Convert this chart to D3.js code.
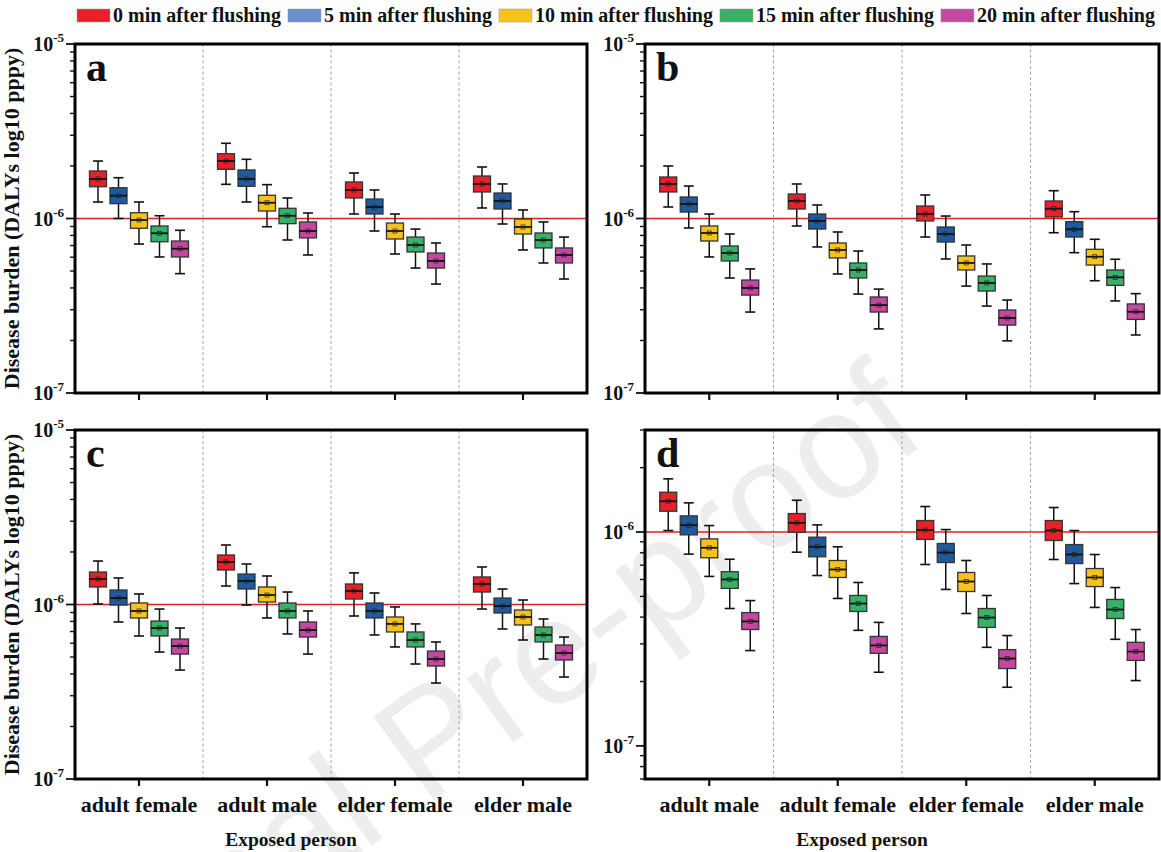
<!DOCTYPE html>
<html>
<head>
<meta charset="utf-8">
<script src="https://cdn.jsdelivr.net/npm/d3@7"></script>
<style>
html,body{margin:0;padding:0;background:#fff;}
svg{display:block;}
</style>
</head>
<body>
<svg id="chart" width="1161" height="852"></svg>
<script>
// ---------------- DATA ----------------
const unit = 1e-6; // values below are in units of 1e-6 DALYs pppy
const seriesNames = ["0 min after flushing","5 min after flushing","10 min after flushing","15 min after flushing","20 min after flushing"];
const categoriesABC = ["adult female","adult male","elder female","elder male"];
const categoriesD = ["adult male","adult female","elder female","elder male"];
const yTicksABC = [1e-5, 1e-6, 1e-7];
const yTicksD = [1e-6, 1e-7];
const yLabelsABC = ["-5","-6","-7"];
const yLabelsD = ["-6","-7"];
const threshold = 1e-6;
// each box: [whisker low, Q1, median, Q3, whisker high]
const panelA = [
  [[1.243,1.521,1.684,1.872,2.135],[1.000,1.216,1.351,1.501,1.713],[0.714,0.879,0.980,1.079,1.243],[0.602,0.736,0.823,0.906,1.037],[0.483,0.602,0.671,0.743,0.856]],
  [[1.570,1.914,2.135,2.351,2.698],[1.243,1.529,1.684,1.897,2.184],[0.897,1.104,1.231,1.358,1.563],[0.753,0.934,1.037,1.144,1.311],[0.618,0.774,0.848,0.955,1.075]],
  [[1.061,1.311,1.457,1.619,1.823],[0.848,1.061,1.164,1.293,1.457],[0.626,0.763,0.848,0.942,1.061],[0.520,0.643,0.705,0.783,0.870],[0.421,0.520,0.571,0.634,0.724]],
  [[1.149,1.419,1.577,1.752,1.973],[0.930,1.133,1.260,1.400,1.577],[0.660,0.815,0.894,0.993,1.119],[0.556,0.678,0.753,0.826,0.955],[0.450,0.556,0.618,0.678,0.783]]
];
const panelB = [
  [[1.164,1.419,1.577,1.729,2.000],[0.882,1.089,1.211,1.328,1.535],[0.602,0.743,0.826,0.906,1.061],[0.456,0.571,0.634,0.696,0.815],[0.291,0.364,0.400,0.444,0.514]],
  [[0.906,1.133,1.260,1.382,1.577],[0.687,0.870,0.968,1.061,1.195],[0.481,0.594,0.660,0.724,0.837],[0.369,0.456,0.507,0.556,0.651],[0.233,0.291,0.319,0.355,0.394]],
  [[0.783,0.968,1.061,1.179,1.364],[0.586,0.733,0.815,0.894,1.033],[0.410,0.507,0.556,0.610,0.705],[0.315,0.384,0.427,0.468,0.549],[0.199,0.245,0.269,0.299,0.341]],
  [[0.829,1.020,1.138,1.260,1.443],[0.637,0.783,0.867,0.959,1.094],[0.440,0.541,0.604,0.666,0.760],[0.337,0.414,0.460,0.507,0.584],[0.215,0.264,0.292,0.324,0.371]]
];
const panelC = [
  [[1.007,1.260,1.400,1.535,1.775],[0.794,0.993,1.089,1.211,1.419],[0.660,0.837,0.918,1.020,1.149],[0.534,0.660,0.733,0.804,0.942],[0.421,0.520,0.578,0.634,0.733]],
  [[1.276,1.577,1.752,1.922,2.193],[0.993,1.227,1.364,1.495,1.707],[0.837,1.033,1.133,1.260,1.457],[0.678,0.837,0.918,1.020,1.179],[0.520,0.651,0.714,0.794,0.918]],
  [[0.859,1.075,1.195,1.311,1.518],[0.669,0.837,0.918,1.020,1.164],[0.571,0.696,0.774,0.848,0.968],[0.456,0.571,0.626,0.696,0.774],[0.355,0.444,0.487,0.541,0.610]],
  [[0.942,1.179,1.311,1.438,1.641],[0.724,0.894,0.980,1.089,1.227],[0.626,0.763,0.848,0.930,1.061],[0.487,0.610,0.669,0.743,0.826],[0.384,0.481,0.527,0.586,0.651]]
];
const panelD = [
  [[1.016,1.251,1.393,1.535,1.773],[0.788,0.970,1.076,1.190,1.369],[0.620,0.758,0.844,0.929,1.072],[0.439,0.545,0.600,0.652,0.746],[0.279,0.350,0.382,0.420,0.478]],
  [[0.805,0.998,1.104,1.220,1.408],[0.626,0.766,0.853,0.946,1.080],[0.489,0.613,0.668,0.736,0.853],[0.347,0.425,0.463,0.505,0.581],[0.221,0.271,0.295,0.325,0.378]],
  [[0.705,0.923,1.022,1.132,1.316],[0.539,0.720,0.802,0.884,1.027],[0.416,0.527,0.587,0.647,0.736],[0.289,0.358,0.398,0.439,0.505],[0.188,0.230,0.256,0.282,0.328]],
  [[0.744,0.913,1.016,1.132,1.302],[0.574,0.712,0.785,0.874,1.016],[0.444,0.556,0.613,0.675,0.785],[0.315,0.394,0.434,0.484,0.550],[0.202,0.251,0.276,0.305,0.350]]
];

// ---------------- STYLE ----------------
const boxColors = ["#e8202a","#1e5a9c","#f8c21c","#38b068","#c4489f"];
const legendColors = ["#e8202a","#6b8ecd","#f8c21c","#38b068","#c4489f"];
const serif = "'Liberation Serif','Times New Roman',serif";

const svg = d3.select("#chart");

// watermark (behind everything)
svg.append("text").attr("transform", "translate(930,440) rotate(-36)").attr("text-anchor", "end")
  .attr("font-family", "'Liberation Sans',Arial,sans-serif").attr("font-size", 150)
  .attr("fill", "#000").attr("fill-opacity", 0.07).text("Journal Pre-proof");

const panels = [
  {letter:"a", data:panelA, cats:categoriesABC, domain:[1e-7,1e-5], ticks:yTicksABC, tickLabels:yLabelsABC, x:75,  y:44,  w:512, h:349, yTitle:true,  xLabels:false},
  {letter:"b", data:panelB, cats:categoriesABC, domain:[1e-7,1e-5], ticks:yTicksABC, tickLabels:yLabelsABC, x:645, y:44,  w:514, h:349, yTitle:false, xLabels:false},
  {letter:"c", data:panelC, cats:categoriesABC, domain:[1e-7,1e-5], ticks:yTicksABC, tickLabels:yLabelsABC, x:75,  y:430, w:512, h:349, yTitle:true,  xLabels:true},
  {letter:"d", data:panelD, cats:categoriesD,   domain:[7e-8,3e-6], ticks:yTicksD,   tickLabels:yLabelsD,   x:645, y:430, w:514, h:349, yTitle:false, xLabels:true}
];

panels.forEach(p => {
  const g = svg.append("g").attr("transform", `translate(${p.x},${p.y})`);
  const xBand = d3.scaleBand().domain(p.cats).range([0, p.w]);
  const xSeries = d3.scalePoint().domain(seriesNames).range([-41, 41]);
  const y = d3.scaleLog().domain(p.domain).range([p.h, 0]);
  const boxW = 17, capW = 10;

  // separators
  p.cats.slice(1).forEach(c => {
    g.append("line").attr("x1", xBand(c)).attr("x2", xBand(c)).attr("y1", 0).attr("y2", p.h)
      .attr("stroke", "#9a9a9a").attr("stroke-width", 0.9).attr("stroke-dasharray", "3,2.5");
  });
  // threshold line
  g.append("line").attr("x1", 0).attr("x2", p.w).attr("y1", y(threshold)).attr("y2", y(threshold))
    .attr("stroke", "#e0201e").attr("stroke-width", 1.6);

  // boxes
  p.cats.forEach((cat, ci) => {
    seriesNames.forEach((s, si) => {
      const v = p.data[ci][si].map(d => d * unit);
      const cx = xBand(cat) + xBand.bandwidth() / 2 + xSeries(s);
      const bg = g.append("g");
      bg.append("line").attr("x1", cx).attr("x2", cx).attr("y1", y(v[4])).attr("y2", y(v[3])).attr("stroke", "#111").attr("stroke-width", 1.5);
      bg.append("line").attr("x1", cx).attr("x2", cx).attr("y1", y(v[1])).attr("y2", y(v[0])).attr("stroke", "#111").attr("stroke-width", 1.5);
      [v[0], v[4]].forEach(w => {
        bg.append("line").attr("x1", cx - capW/2).attr("x2", cx + capW/2).attr("y1", y(w)).attr("y2", y(w))
          .attr("stroke", "#111").attr("stroke-width", 1.6);
      });
      bg.append("rect").attr("x", cx - boxW/2).attr("y", y(v[3])).attr("width", boxW).attr("height", y(v[1]) - y(v[3]))
        .attr("fill", boxColors[si]).attr("stroke", "#333").attr("stroke-width", 1.3);
      bg.append("line").attr("x1", cx - boxW/2).attr("x2", cx + boxW/2).attr("y1", y(v[2])).attr("y2", y(v[2]))
        .attr("stroke", "#111").attr("stroke-width", 1.8);
      bg.append("rect").attr("x", cx - 2).attr("y", y(v[2]) - 2).attr("width", 4).attr("height", 4)
        .attr("fill", "none").attr("stroke", "#222").attr("stroke-width", 0.7);
    });
  });

  // y ticks (major + minor)
  const allTicks = y.ticks().filter(t => t >= p.domain[0] && t <= p.domain[1]);
  allTicks.forEach(t => {
    const major = p.ticks.some(m => Math.abs(Math.log10(m) - Math.log10(t)) < 1e-9);
    g.append("line").attr("x1", major ? -9 : -5).attr("x2", 0).attr("y1", y(t)).attr("y2", y(t))
      .attr("stroke", "#111").attr("stroke-width", major ? 1.8 : 1.4);
  });
  p.ticks.forEach((t, i) => {
    const txt = g.append("text").attr("x", -11).attr("y", y(t) + 7).attr("text-anchor", "end")
      .attr("font-family", serif).attr("font-weight", "bold").attr("font-size", 20).attr("fill", "#111");
    txt.append("tspan").text("10");
    txt.append("tspan").attr("dy", -9).attr("font-size", 13).text(p.tickLabels[i]);
  });

  // x ticks & labels
  p.cats.forEach(c => {
    const cx = xBand(c) + xBand.bandwidth() / 2;
    g.append("line").attr("x1", cx).attr("x2", cx).attr("y1", p.h).attr("y2", p.h + 7)
      .attr("stroke", "#111").attr("stroke-width", 2.2);
    if (p.xLabels) {
      g.append("text").attr("x", cx).attr("y", p.h + 33).attr("text-anchor", "middle")
        .attr("font-family", serif).attr("font-weight", "bold").attr("font-size", 22).attr("fill", "#111").text(c);
    }
  });
  if (p.xLabels) {
    g.append("text").attr("x", p.w / 2 - 40).attr("y", p.h + 67).attr("text-anchor", "middle")
      .attr("font-family", serif).attr("font-weight", "bold").attr("font-size", 19.5).attr("fill", "#111").text("Exposed person");
  }
  if (p.yTitle) {
    g.append("text").attr("transform", `translate(${-56},${p.h/2}) rotate(-90)`).attr("text-anchor", "middle")
      .attr("font-family", serif).attr("font-weight", "bold").attr("font-size", 22).attr("fill", "#111")
      .text("Disease burden (DALYs log10 pppy)");
  }

  // frame
  g.append("rect").attr("x", 0).attr("y", 0).attr("width", p.w).attr("height", p.h)
    .attr("fill", "none").attr("stroke", "#000").attr("stroke-width", 3);

  // panel letter
  g.append("text").attr("x", 11).attr("y", 37).attr("font-family", serif).attr("font-weight", "bold")
    .attr("font-size", 42).attr("fill", "#111").text(p.letter);
});

// legend
const leg = svg.append("g");
let lx = 77;
seriesNames.forEach((s, i) => {
  leg.append("rect").attr("x", lx).attr("y", 9).attr("width", 33).attr("height", 13).attr("fill", legendColors[i])
    .attr("stroke", "#999").attr("stroke-width", 0.5);
  const t = leg.append("text").attr("x", lx + 36).attr("y", 22).attr("font-family", serif).attr("font-weight", "bold")
    .attr("font-size", 20).attr("fill", "#111").text(s);
  lx += 36 + t.node().getComputedTextLength() + 7;
});
</script>
</body>
</html>
